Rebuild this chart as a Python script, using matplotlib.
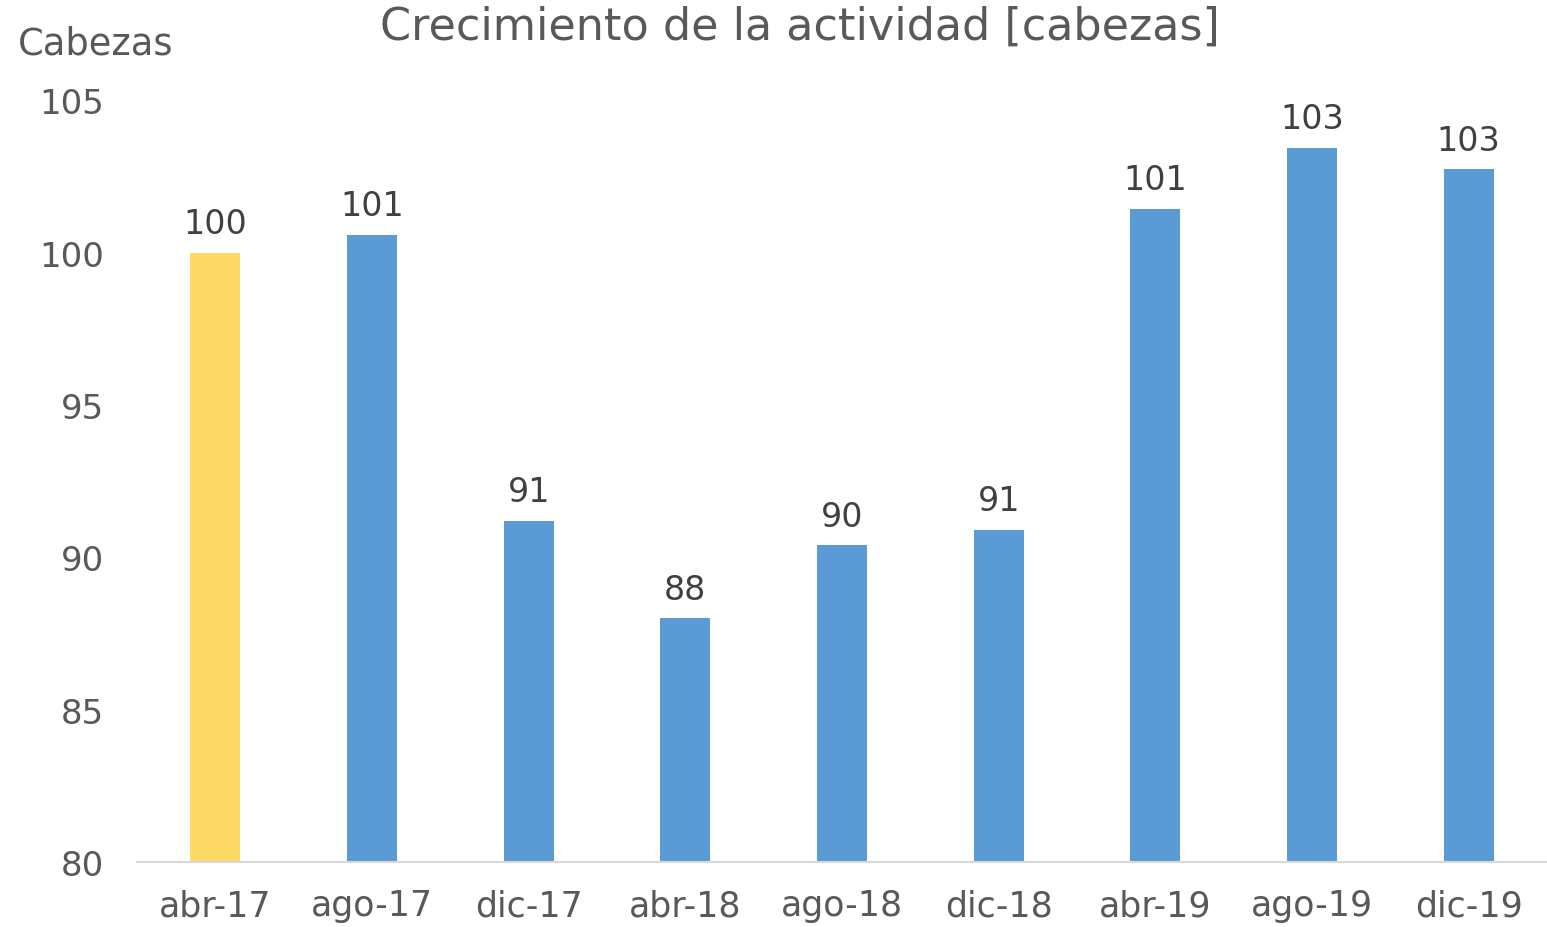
import matplotlib
matplotlib.use("Agg")
import matplotlib.pyplot as plt

plt.rcParams['font.family'] = ['DejaVu Sans']

# periodos y cabezas (indice abr-17 = 100)
periodos = ["abr-17", "ago-17", "dic-17", "abr-18", "ago-18", "dic-18", "abr-19", "ago-19", "dic-19"]
cabezas = [100.0, 100.6, 91.2, 88.0, 90.4, 90.9, 101.45, 103.45, 102.75]
colores = ["#FFD966"] + ["#5B9BD5"] * 8
yticks = [80, 85, 90, 95, 100, 105]

gris = "#595959"

fig = plt.figure(figsize=(15.47, 9.28), dpi=100)
ax = fig.add_axes([137 / 1547, 65 / 928, 1 - 137 / 1547, (863 - 101.5) / 928])

x = range(len(periodos))
bars = ax.bar(x, [v - 80 for v in cabezas], bottom=80, width=0.32, color=colores)

for xi, v in zip(x, cabezas):
    ax.annotate(f"{v:.0f}", (xi, v), xytext=(0, 9), textcoords="offset points",
                ha="center", va="bottom", fontsize=24, color="#404040")

ax.set_xlim(-0.5, len(periodos) - 0.5)
ax.set_ylim(80, 105)
ax.set_yticks(yticks)
ax.set_xticks(list(x))
ax.set_xticklabels(periodos)
ax.tick_params(axis="both", length=0, colors=gris)
ax.tick_params(axis="y", pad=24, labelsize=24.5)
ax.tick_params(axis="x", pad=19, labelsize=25)

for s in ["top", "right", "left"]:
    ax.spines[s].set_visible(False)
ax.spines["bottom"].set_color("#D9D9D9")
ax.spines["bottom"].set_linewidth(1.5)

fig.text(800 / 1547, 1 - 27 / 928, "Crecimiento de la actividad [cabezas]",
         ha="center", va="center", fontsize=32, color=gris)
fig.text(18 / 1547, 1 - 44 / 928, "Cabezas", ha="left", va="center",
         fontsize=26.5, color=gris)

fig.savefig("out.png", dpi=100)
